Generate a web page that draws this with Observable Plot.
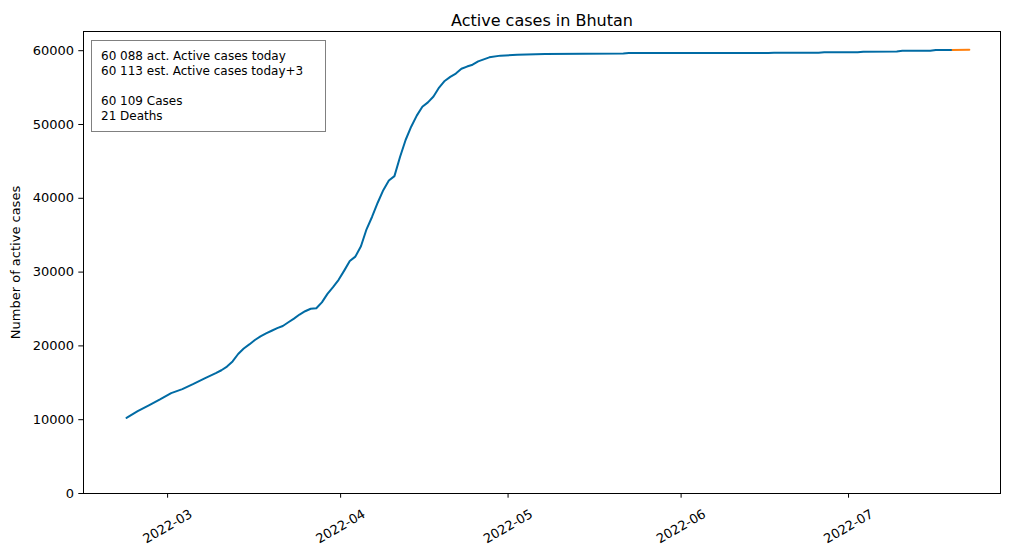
<!DOCTYPE html>
<html>
<head>
<meta charset="utf-8">
<script src="https://cdn.jsdelivr.net/npm/d3@7"></script>
<script src="https://cdn.jsdelivr.net/npm/@observablehq/plot@0.6"></script>
<style>
  body { margin: 0; background: #fff; font-family: "DejaVu Sans", sans-serif; }
  #wrap { position: relative; width: 1023px; height: 554px; }
  #box {
    position: absolute; left: 91px; top: 40px; width: 224px; height: 82px;
    border: 1px solid #808080; background: rgba(255,255,255,0.8);
    font: 12px "DejaVu Sans", sans-serif; line-height: 15px; color: #000;
    padding: 8px 0 0 9px; white-space: pre;
  }
</style>
</head>
<body>
<div id="wrap"></div>
<script>
const actualDates = [
  "2022-02-22","2022-02-24","2022-02-26","2022-02-28","2022-03-02","2022-03-04","2022-03-06","2022-03-08",
  "2022-03-10","2022-03-11","2022-03-12","2022-03-13","2022-03-14","2022-03-15","2022-03-16","2022-03-17",
  "2022-03-18","2022-03-19","2022-03-20","2022-03-21","2022-03-22","2022-03-23","2022-03-24","2022-03-25",
  "2022-03-26","2022-03-27","2022-03-28","2022-03-29","2022-03-30","2022-03-31","2022-04-01","2022-04-02",
  "2022-04-03","2022-04-04","2022-04-05","2022-04-06","2022-04-07","2022-04-08","2022-04-09","2022-04-10",
  "2022-04-11","2022-04-12","2022-04-13","2022-04-14","2022-04-15","2022-04-16","2022-04-17","2022-04-18",
  "2022-04-19","2022-04-20","2022-04-21","2022-04-22","2022-04-23","2022-04-24","2022-04-25","2022-04-26",
  "2022-04-28","2022-04-30","2022-05-03","2022-05-08","2022-05-15","2022-05-22","2022-05-23","2022-06-17",
  "2022-06-18","2022-06-26","2022-06-27","2022-07-03","2022-07-04","2022-07-10","2022-07-11","2022-07-16",
  "2022-07-17","2022-07-20"
];
const actualValues = [
  10250, 11150, 11950, 12750, 13600, 14150, 14850, 15600,
  16300, 16700, 17200, 17900, 18900, 19650, 20200, 20800,
  21300, 21700, 22050, 22400, 22700, 23200, 23700, 24250,
  24700, 25030, 25100, 25900, 27050, 27950, 28950, 30200,
  31500, 32100, 33500, 35800, 37500, 39400, 41100, 42400,
  43000, 45600, 47900, 49700, 51200, 52400, 53000, 53800,
  55000, 55900, 56450, 56900, 57550, 57850, 58100, 58550,
  59100, 59330, 59450, 59560, 59600, 59630, 59680, 59690,
  59720, 59730, 59790, 59800, 59870, 59890, 59980, 59990,
  60088, 60088
];
// Estimate (today -> today+3)
const forecastDates = ["2022-07-20", "2022-07-23"];
const forecastValues = [60088, 60113];

const xTicks = ["2022-03-01", "2022-04-01", "2022-05-01", "2022-06-01", "2022-07-01"];
const yTicks = [0, 10000, 20000, 30000, 40000, 50000, 60000];

const titleText = "Active cases in Bhutan";
const yLabel = "Number of active cases";
const boxLines = [
  "60 088 act. Active cases today",
  "60 113 est. Active cases today+3",
  "",
  "60 109 Cases",
  "21 Deaths"
];

const actual = actualDates.map((d, i) => ({date: new Date(d), value: actualValues[i]}));
const forecast = forecastDates.map((d, i) => ({date: new Date(d), value: forecastValues[i]}));

const chart = Plot.plot({
  width: 1023,
  height: 554,
  marginLeft: 83,
  marginRight: 23,
  marginTop: 31,
  marginBottom: 61,
  style: {fontFamily: "DejaVu Sans, sans-serif", fontSize: "13px", color: "black", background: "white"},
  x: {type: "utc", domain: [new Date("2022-02-14T07:00Z"), new Date("2022-07-28T14:00Z")]},
  y: {domain: [0, 62600]},
  marks: [
    Plot.axisX({
      ticks: xTicks.map(d => new Date(d)),
      tickFormat: d3.utcFormat("%Y-%m"),
      tickSize: 4.7, tickPadding: 28.3, tickRotate: -30,
      textAnchor: "middle", lineAnchor: "middle", dx: 2,
      label: null, fontSize: 13, stroke: "black"
    }),
    Plot.axisY({
      ticks: yTicks,
      tickFormat: d => String(d),
      tickSize: 4.7, tickPadding: 4.7,
      label: yLabel, labelAnchor: "center", labelOffset: 73, labelArrow: "none",
      fontSize: 13, stroke: "black"
    }),
    Plot.lineY(actual, {x: "date", y: "value", stroke: "#006BA4", strokeWidth: 2}),
    Plot.lineY(forecast, {x: "date", y: "value", stroke: "#FF800E", strokeWidth: 2}),
    Plot.frame({stroke: "black", strokeWidth: 1}),
    Plot.text([titleText], {text: d => d, frameAnchor: "top", dy: -17, fontSize: 16, fill: "black"})
  ]
});

const wrap = document.getElementById("wrap");
wrap.appendChild(chart);
const box = document.createElement("div");
box.id = "box";
box.textContent = boxLines.join("\n");
wrap.appendChild(box);
</script>
</body>
</html>
